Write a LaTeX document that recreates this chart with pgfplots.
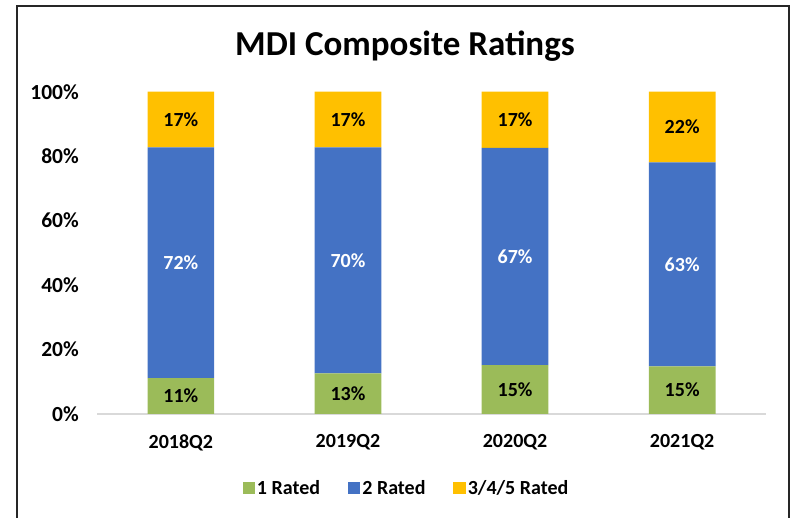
\documentclass[border=0pt]{standalone}
\usepackage{pgfplots}
\pgfplotsset{compat=1.18}
\usepackage{fontspec}
\setmainfont{Carlito}
\definecolor{cgreen}{HTML}{9BBB59}
\definecolor{cblue}{HTML}{4472C4}
\definecolor{cyellow}{HTML}{FFC000}
\definecolor{axgray}{HTML}{D9D9D9}
\newcommand{\lab}{\fontsize{20}{24}\selectfont\bfseries}
\begin{document}
\begin{tikzpicture}
\path[use as bounding box] (0pt,0pt) rectangle (795pt,518pt);
\draw[line width=2pt, black!85] (17pt,0pt) -- (17pt,512pt) -- (789pt,512pt) -- (789pt,0pt);
\node[anchor=base, font=\fontsize{35}{40}\selectfont\bfseries] at (405pt,462pt) {MDI Composite Ratings};
\begin{axis}[
  at={(97.3pt,104pt)}, anchor=south west,
  scale only axis, width=668.4pt, height=322.3pt,
  ybar stacked, bar width=66.7pt,
  xmin=-0.5, xmax=3.5, ymin=0, ymax=100,
  xtick={0,1,2,3}, xticklabels={2018Q2,2019Q2,2020Q2,2021Q2},
  ytick={0,20,40,60,80,100},
  yticklabels={0\%,20\%,40\%,60\%,80\%,100\%},
  major tick length=0pt,
  axis x line=bottom, axis y line=left,
  axis line style={-},
  x axis line style={draw=axgray, line width=1.2pt},
  y axis line style={draw=none},
  tick label style={font=\lab},
  yticklabel style={xshift=-15pt, font=\fontsize{21.5}{24}\selectfont\bfseries},
  xticklabel style={yshift=-17pt},
  legend style={at={(0.4626,-0.2296)}, anchor=center, draw=none, fill=none,
    legend columns=-1, font=\lab,
    /tikz/every even column/.append style={column sep=26pt}},
  legend image code/.code={\fill[#1] (0pt,-6pt) rectangle (12.3pt,6.3pt);},
]
\addplot[fill=cgreen, draw=none] coordinates {(0,11.1) (1,12.6) (2,15.2) (3,14.8)};
\addplot[fill=cblue, draw=none] coordinates {(0,71.6) (1,70.1) (2,67.4) (3,63.3)};
\addplot[fill=cyellow, draw=none] coordinates {(0,17.3) (1,17.3) (2,17.4) (3,21.9)};
\legend{1 Rated, 2 Rated, 3/4/5 Rated}
\end{axis}
\begin{axis}[
  at={(97.3pt,104pt)}, anchor=south west,
  scale only axis, width=668.4pt, height=322.3pt,
  xmin=-0.5, xmax=3.5, ymin=0, ymax=100,
  hide axis,
  nodes near coords, point meta=explicit symbolic,
  nodes near coords style={anchor=center, font=\lab},
]
\addplot[draw=none, mark=none, nodes near coords style={text=black}] coordinates {
  (0,5.55)[11\%] (1,6.3)[13\%] (2,7.6)[15\%] (3,7.4)[15\%]};
\addplot[draw=none, mark=none, nodes near coords style={text=white}] coordinates {
  (0,46.9)[72\%] (1,47.65)[70\%] (2,48.9)[67\%] (3,46.45)[63\%]};
\addplot[draw=none, mark=none, nodes near coords style={text=black}] coordinates {
  (0,91.35)[17\%] (1,91.35)[17\%] (2,91.3)[17\%] (3,89.05)[22\%]};
\end{axis}
\end{tikzpicture}
\end{document}
